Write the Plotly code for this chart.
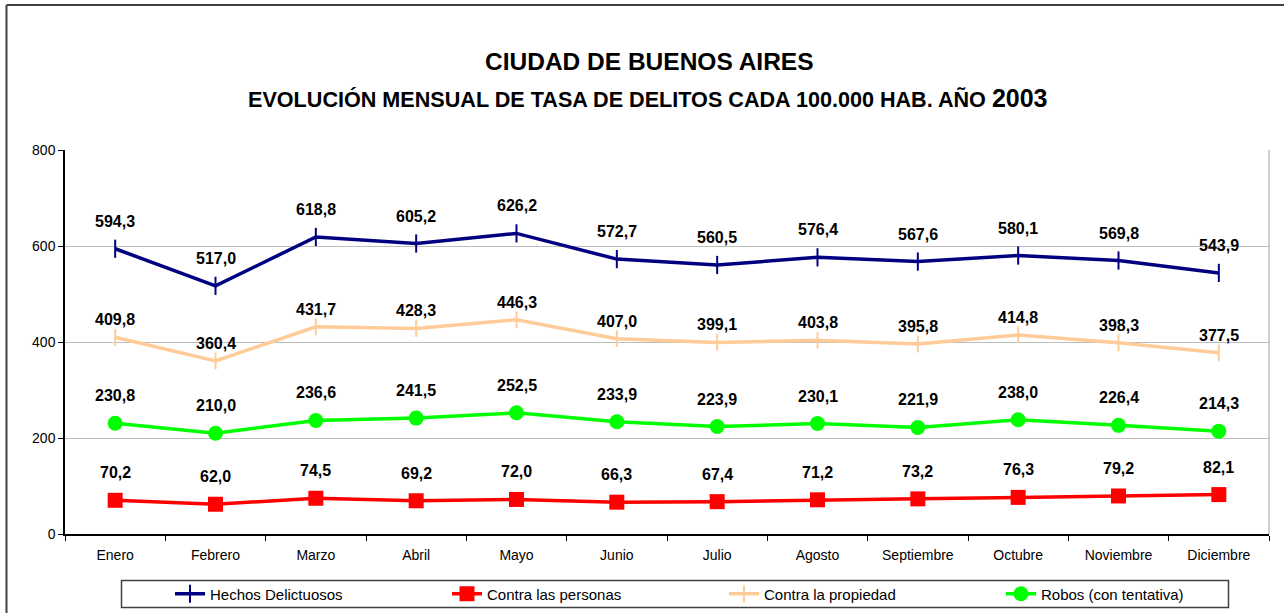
import plotly.graph_objects as go

months = ["Enero", "Febrero", "Marzo", "Abril", "Mayo", "Junio", "Julio",
          "Agosto", "Septiembre", "Octubre", "Noviembre", "Diciembre"]
hechos = [594.3, 517.0, 618.8, 605.2, 626.2, 572.7, 560.5, 576.4, 567.6, 580.1, 569.8, 543.9]
personas = [70.2, 62.0, 74.5, 69.2, 72.0, 66.3, 67.4, 71.2, 73.2, 76.3, 79.2, 82.1]
propiedad = [409.8, 360.4, 431.7, 428.3, 446.3, 407.0, 399.1, 403.8, 395.8, 414.8, 398.3, 377.5]
robos = [230.8, 210.0, 236.6, 241.5, 252.5, 233.9, 223.9, 230.1, 221.9, 238.0, 226.4, 214.3]

W, H = 1284, 613
L, R, T, B = 65, 1269, 150, 534


def px(x):
    return (x - L) / (R - L)


def py(y):
    return (B - y) / (B - T)


def fmt(v):
    return f"{v:.1f}".replace(".", ",")


FONT = "Arial, Liberation Sans, sans-serif"

series = [
    ("Hechos Delictuosos", hechos, "#000080", dict(symbol="line-ns", size=13, line=dict(width=2, color="#000080")), 17),
    ("Contra las personas", personas, "#FF0000", dict(symbol="square", size=15, color="#FF0000"), 17),
    ("Contra la propiedad", propiedad, "#FFCC99", dict(symbol="line-ns", size=12, line=dict(width=2, color="#FFCC99")), 7),
    ("Robos (con tentativa)", robos, "#00FF00", dict(symbol="circle", size=15, color="#00FF00"), 17),
]

fig = go.Figure()
annotations = []
for name, vals, color, marker, shift in series:
    fig.add_trace(go.Scatter(
        x=months, y=vals, name=name, mode="lines+markers",
        line=dict(color=color, width=3.5), marker=marker,
    ))
    for m, v in zip(months, vals):
        annotations.append(dict(
            x=m, y=v, xref="x", yref="y", text="<b>" + fmt(v) + "</b>", showarrow=False,
            yanchor="bottom", yshift=shift,
            font=dict(family=FONT, size=16, color="black"),
        ))

annotations.append(dict(
    x=px(649), y=py(62), xref="paper", yref="paper", showarrow=False,
    text="<b>CIUDAD DE BUENOS AIRES</b>", xanchor="center", yanchor="middle",
    font=dict(family=FONT, size=24.5, color="black"),
))
annotations.append(dict(
    x=px(648), y=py(98), xref="paper", yref="paper", showarrow=False,
    text="<b>EVOLUCIÓN MENSUAL DE TASA DE DELITOS CADA 100.000 HAB. AÑO <span style='font-size:25px'>2003</span></b>",
    xanchor="center", yanchor="middle",
    font=dict(family=FONT, size=21.6, color="black"),
))

shapes = [
    # outer frame
    dict(type="line", xref="paper", yref="paper", x0=px(6.5), x1=px(1290), y0=py(5), y1=py(5),
         line=dict(color="#404040", width=2)),
    dict(type="line", xref="paper", yref="paper", x0=px(6.5), x1=px(6.5), y0=py(5), y1=py(620),
         line=dict(color="#404040", width=2)),
    # plot area right border
    dict(type="line", xref="paper", yref="paper", x0=1, x1=1, y0=0, y1=1,
         line=dict(color="#A0A0A0", width=1)),
    # legend box
    dict(type="rect", xref="paper", yref="paper", x0=px(121.5), x1=px(1228.5), y0=py(580.5), y1=py(607.5),
         line=dict(color="#404040", width=1.5), fillcolor="rgba(0,0,0,0)"),
]

fig.update_layout(
    width=W, height=H,
    margin=dict(l=L, r=W - R, t=T, b=H - B, autoexpand=False),
    paper_bgcolor="white", plot_bgcolor="white",
    font=dict(family=FONT, size=14, color="black"),
    showlegend=True,
    legend=dict(
        orientation="h", x=px(170), y=py(594), xanchor="left", yanchor="middle",
        xref="paper", yref="paper",
        entrywidth=232, entrywidthmode="pixels",
        font=dict(family=FONT, size=15, color="black"), bgcolor="rgba(0,0,0,0)", borderwidth=0,
        traceorder="normal", itemwidth=30,
    ),
    annotations=annotations,
    shapes=shapes,
)
fig.update_xaxes(
    type="category", range=[-0.5, len(months) - 0.5],
    showline=True, linecolor="black", linewidth=1.5,
    ticks="outside", tickson="boundaries", ticklen=5, tickcolor="black",
    showgrid=False, tickfont=dict(size=14), fixedrange=True, ticklabelstandoff=7,
    automargin=False,
)
fig.update_yaxes(
    range=[0, 800], tickvals=[0, 200, 400, 600, 800], showline=True, linecolor="black", linewidth=1.5,
    ticks="outside", ticklen=5, tickcolor="black", showgrid=True, gridcolor="#BDBDBD", gridwidth=1,
    zeroline=False, tickfont=dict(size=14), fixedrange=True, automargin=False,
)

fig.write_html("out.html", config={"displayModeBar": False},
               post_script="document.body.style.margin='0';document.body.style.overflow='hidden';")
